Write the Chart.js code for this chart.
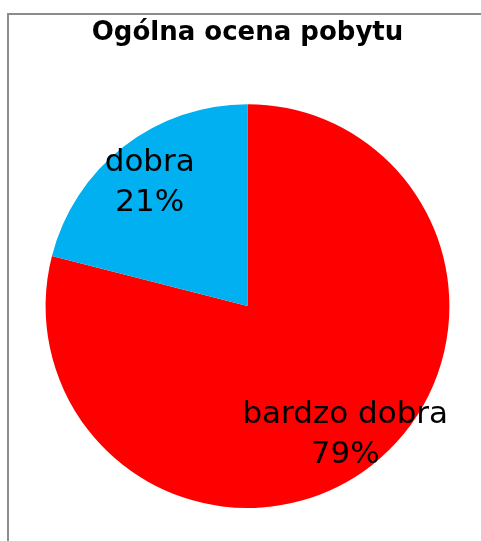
<!DOCTYPE html>
<html>
<head>
<meta charset="utf-8">
<script src="https://cdn.jsdelivr.net/npm/chart.js@4/dist/chart.umd.min.js"></script>
<style>
	html, body {
		margin: 0;
		padding: 0;
		background: #ffffff;
	}
	.chart__wrap {
		position: relative;
		width: 481px;
		height: 541px;
	}
	.chart__frame {
		position: absolute;
		left: 7px;
		top: 13px;
		right: -10px;
		bottom: -10px;
		border-top: 2px solid #8c8c8c;
		border-left: 2px solid #8c8c8c;
		pointer-events: none;
	}
</style>
</head>
<body>
<div class="chart__wrap">
	<canvas id="myChartPobyt" width="481" height="541"></canvas>
	<div class="chart__frame"></div>
</div>
<script>
// данные
const labels = ["bardzo dobra", "dobra"];
const values = [79, 21];
const colors = ["#FF0000", "#00B0F0"];
const chartTitle = "Ogólna ocena pobytu";

const fontFamily = "'DejaVu Sans', Verdana, sans-serif";

// подписи внутри секторов: категория + процент
const sliceLabels = {
	id: "sliceLabels",
	afterDatasetsDraw(chart) {
		const { ctx } = chart;
		const meta = chart.getDatasetMeta(0);
		const total = values.reduce((a, b) => a + b, 0);

		ctx.save();
		ctx.fillStyle = "#000000";
		ctx.font = "31px " + fontFamily;
		ctx.textAlign = "center";
		ctx.textBaseline = "alphabetic";

		meta.data.forEach((arc, idx) => {
			const { x, y, startAngle, endAngle, outerRadius } = arc.getProps(
				["x", "y", "startAngle", "endAngle", "outerRadius"],
				true
			);
			const mid = (startAngle + endAngle) / 2;
			const r = outerRadius * 0.79;
			const lx = x + Math.cos(mid) * r;
			const ly = y + Math.sin(mid) * r;
			const pct = Math.round((values[idx] / total) * 100) + "%";

			ctx.fillText(labels[idx], lx, ly - 9);
			ctx.fillText(pct, lx, ly + 31);
		});
		ctx.restore();
	},
};

const ctx = document.getElementById("myChartPobyt");

const config = {
	type: "pie",
	data: {
		labels: labels,
		datasets: [
			{
				data: values,
				backgroundColor: colors,
				borderWidth: 0,
			},
		],
	},
	options: {
		responsive: false,
		animation: false,
		layout: {
			padding: {
				top: 0,
				bottom: 33,
				left: 45,
				right: 31,
			},
		},
		plugins: {
			legend: {
				display: false,
			},
			tooltip: {
				enabled: false,
			},
			title: {
				display: true,
				text: chartTitle,
				color: "#000000",
				font: {
					family: fontFamily,
					size: 26,
					weight: "bold",
				},
				padding: {
					top: 18,
					bottom: 55,
				},
			},
		},
	},
	plugins: [sliceLabels],
};

const pobytChart = new Chart(ctx, config);
</script>
</body>
</html>
